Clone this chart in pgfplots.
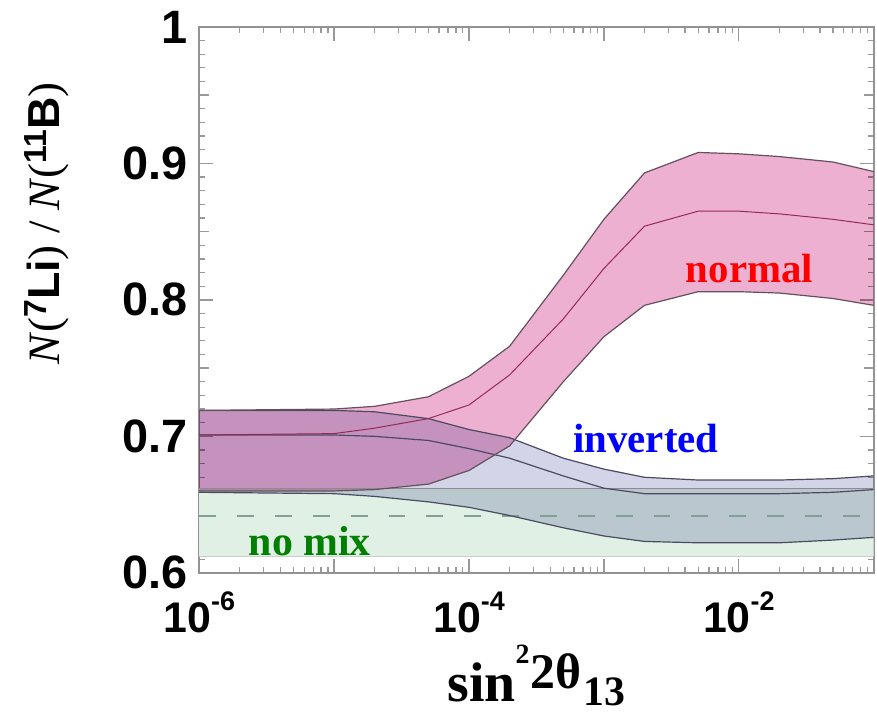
\documentclass[border=0pt]{standalone}
\usepackage{fontspec}
\setmainfont{Liberation Serif}
\setsansfont{Liberation Sans}
\usepackage{pgfplots}
\usepackage{pgfplotstable}
\pgfplotsset{compat=1.18}

\definecolor{pinkfill}{RGB}{238,176,208}
\definecolor{lavfill}{RGB}{212,212,232}
\definecolor{greenfill}{RGB}{224,240,228}
\definecolor{nedge}{RGB}{100,80,95}
\definecolor{nmid}{RGB}{150,40,90}
\definecolor{iedge}{RGB}{75,75,95}
\definecolor{dashc}{RGB}{130,160,150}
\definecolor{nomixgreen}{RGB}{0,128,0}

\newcommand{\xsup}[1]{10\raisebox{22pt}{\fontsize{27}{27}\selectfont -#1}}
\newcommand{\ysup}[1]{\raisebox{13pt}{\fontsize{32}{32}\selectfont\sffamily\bfseries #1}}

\pgfplotstableread{
x nu nm nl iu im il
1e-6 0.719 0.701 0.660 0.719 0.701 0.659
1e-5 0.720 0.702 0.660 0.719 0.701 0.658
2e-5 0.722 0.706 0.661 0.718 0.700 0.656
5e-5 0.729 0.713 0.665 0.713 0.697 0.652
1e-4 0.744 0.723 0.675 0.705 0.691 0.648
2e-4 0.766 0.745 0.693 0.699 0.684 0.642
5e-4 0.818 0.786 0.740 0.684 0.671 0.633
1e-3 0.859 0.823 0.773 0.676 0.662 0.627
2e-3 0.893 0.854 0.796 0.670 0.658 0.623
5e-3 0.908 0.865 0.806 0.668 0.658 0.622
1e-2 0.907 0.865 0.806 0.668 0.658 0.622
2e-2 0.905 0.863 0.805 0.668 0.658 0.622
5e-2 0.901 0.859 0.801 0.669 0.659 0.624
1e-1 0.894 0.855 0.796 0.671 0.661 0.626
}\bands

% closed outlines of the bands (upper edge, then lower edge backwards)
\pgfplotstableread{
x y
1e-6 0.719
1e-5 0.720
2e-5 0.722
5e-5 0.729
1e-4 0.744
2e-4 0.766
5e-4 0.818
1e-3 0.859
2e-3 0.893
5e-3 0.908
1e-2 0.907
2e-2 0.905
5e-2 0.901
1e-1 0.894
1e-1 0.796
5e-2 0.801
2e-2 0.805
1e-2 0.806
5e-3 0.806
2e-3 0.796
1e-3 0.773
5e-4 0.740
2e-4 0.693
1e-4 0.675
5e-5 0.665
2e-5 0.661
1e-5 0.660
1e-6 0.660
}\normalpoly

\pgfplotstableread{
x y
1e-6 0.719
1e-5 0.719
2e-5 0.718
5e-5 0.713
1e-4 0.705
2e-4 0.699
5e-4 0.684
1e-3 0.676
2e-3 0.670
5e-3 0.668
1e-2 0.668
2e-2 0.668
5e-2 0.669
1e-1 0.671
1e-1 0.626
5e-2 0.624
2e-2 0.622
1e-2 0.622
5e-3 0.622
2e-3 0.623
1e-3 0.627
5e-4 0.633
2e-4 0.642
1e-4 0.648
5e-5 0.652
2e-5 0.656
1e-5 0.658
1e-6 0.659
}\invpoly

\pgfplotstableread{
x y
1e-6 0.662
1e-1 0.662
1e-1 0.612
1e-6 0.612
}\nomixpoly

\pgfplotstableread{
x lo mid hi
1e-6 0.612 0.642 0.662
1e-1 0.612 0.642 0.662
}\nomix

\begin{document}
\begin{tikzpicture}
\begin{axis}[
  scale only axis,
  width=677pt, height=548pt,
  xmode=log,
  xmin=1e-6, xmax=1e-1,
  ymin=0.6, ymax=1,
  axis line style={draw=gray!85, line width=2pt},
  xtick={1e-6,1e-5,1e-4,1e-3,1e-2,1e-1},
  xticklabels={\xsup{6},,\xsup{4},,\xsup{2},},
  minor xtick={2e-6,3e-6,4e-6,5e-6,6e-6,7e-6,8e-6,9e-6,
               2e-5,3e-5,4e-5,5e-5,6e-5,7e-5,8e-5,9e-5,
               2e-4,3e-4,4e-4,5e-4,6e-4,7e-4,8e-4,9e-4,
               2e-3,3e-3,4e-3,5e-3,6e-3,7e-3,8e-3,9e-3,
               2e-2,3e-2,4e-2,5e-2,6e-2,7e-2,8e-2,9e-2},
  ytick={0.6,0.7,0.8,0.9,1},
  yticklabels={0.6,0.7,0.8,0.9,1},
  minor ytick={0.61,0.62,0.63,0.64,0.66,0.67,0.68,0.69,
               0.71,0.72,0.73,0.74,0.76,0.77,0.78,0.79,
               0.81,0.82,0.83,0.84,0.86,0.87,0.88,0.89,
               0.91,0.92,0.93,0.94,0.96,0.97,0.98,0.99},
  extra y ticks={0.65,0.75,0.85,0.95},
  extra y tick labels={},
  extra y tick style={major tick length=10pt},
  major tick length=14pt,
  minor tick length=6pt,
  every tick/.style={draw=gray!80, line width=1.3pt},
  tick align=inside,
  xticklabel style={font=\sffamily\bfseries\fontsize{43}{43}\selectfont, anchor=base, yshift=-60pt},
  yticklabel style={font=\sffamily\bfseries\fontsize{47}{47}\selectfont, xshift=-8pt},
  xlabel={\bfseries\fontsize{56}{56}\selectfont sin\raisebox{38pt}{\fontsize{28}{28}\selectfont 2}\kern1pt\raisebox{13pt}{\fontsize{50}{50}\selectfont 2θ}\kern2pt\raisebox{-4pt}{\fontsize{42}{42}\selectfont 13}},
  xlabel style={at={(axis description cs:0.5,0)}, anchor=base, yshift=-129pt},
  ylabel={\fontsize{45}{45}\selectfont\textit{N}(\ysup{7}\textsf{\bfseries Li}) / \textit{N}(\ysup{11}\textsf{\bfseries B})},
  ylabel style={at={(axis description cs:0,0.64)}, anchor=center, yshift=153pt},
]
% fills
\addplot[fill=greenfill, draw=none] table[x=x,y=y]{\nomixpoly};
\addplot[fill=lavfill, draw=none, blend mode=multiply] table[x=x,y=y]{\invpoly};
\addplot[fill=pinkfill, draw=none, blend mode=multiply] table[x=x,y=y]{\normalpoly};
% no mix edges
\addplot[draw=gray!40, line width=1pt] table[x=x,y=lo]{\nomix};
\addplot[draw=gray!90, line width=1.3pt] table[x=x,y=hi]{\nomix};
\addplot[draw=dashc, line width=2pt, dash pattern=on 17pt off 21pt] table[x=x,y=mid]{\nomix};
% inverted edges and middle
\addplot[draw=iedge, line width=1.2pt] table[x=x,y=iu]{\bands};
\addplot[draw=iedge, line width=1.2pt] table[x=x,y=il]{\bands};
\addplot[draw=iedge, line width=1.2pt] table[x=x,y=im]{\bands};
% normal edges and middle
\addplot[draw=nedge, line width=1.2pt] table[x=x,y=nu]{\bands};
\addplot[draw=nedge, line width=1.2pt] table[x=x,y=nl]{\bands};
\addplot[draw=nmid, line width=1.0pt] table[x=x,y=nm]{\bands};
% labels
\node[text=red, font=\bfseries\fontsize{41}{41}\selectfont] at (axis cs:1.2e-2,0.8226) {normal};
\node[text=blue, font=\bfseries\fontsize{41}{41}\selectfont] at (axis cs:2.05e-3,0.6985) {inverted};
\node[text=nomixgreen, font=\bfseries\fontsize{42}{42}\selectfont] at (axis cs:6.6e-6,0.623) {no mix};
\end{axis}
\path (-200pt,-141pt) rectangle (677pt,575pt);
\end{tikzpicture}
\end{document}
